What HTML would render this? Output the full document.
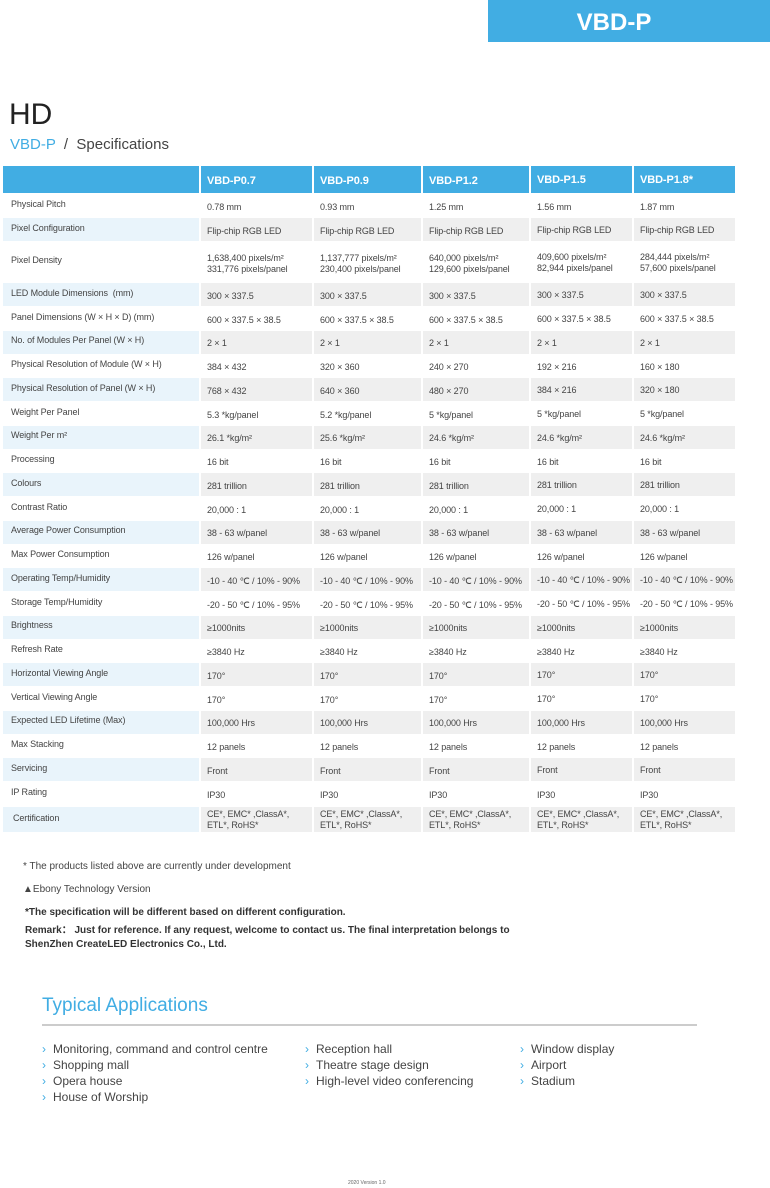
<!DOCTYPE html>
<html><head><meta charset="utf-8"><style>
*{margin:0;padding:0;box-sizing:border-box}
body{width:770px;height:1188px;background:#fff;position:relative;font-family:"Liberation Sans",sans-serif;color:#444;overflow:hidden}
.a{position:absolute;white-space:nowrap}
.row{position:absolute;left:3px;width:733px;display:flex}
.row div{height:100%;margin-right:2px;font-size:9px;color:#444;padding-left:6px;display:flex;align-items:center;line-height:11px;white-space:nowrap;letter-spacing:-0.1px}
.row div:first-child{width:196px;padding-left:8px;padding-bottom:3px}
.row div:nth-child(2){width:111px;padding-top:3px}
.row div:nth-child(3){width:107px;padding-top:3px}
.row div:nth-child(4){width:106px;padding-top:3px}
.row div:nth-child(5){width:101px;padding-top:2px}
.row div:nth-child(6){width:101px;margin-right:0;padding-top:2px}
.s div{background:#efefef}
.s div:first-child{background:#e9f4fb}
.h div{background:#41ade3;color:#fff;font-size:11px;font-weight:bold}
.h div:first-child{background:#41ade3}
.li{font-size:12px;color:#444}
.li span{color:#41ade3;margin-right:7px}
</style></head><body>
<div class="a" style="left:488px;top:0;width:282px;height:42px;background:#41ade3;color:#fff;font-size:24px;font-weight:bold;text-align:center;line-height:46px;padding-right:30px">VBD-P</div>
<div class="a" style="left:9px;top:98px;font-size:30px;color:#222">HD</div>
<div class="a" style="left:10px;top:136px;font-size:15px;color:#41ade3">VBD-P <span style="color:#444">&nbsp;/&nbsp; Specifications</span></div>

<div class="row h" style="top:166px;height:27px"><div></div><div>VBD-P0.7</div><div>VBD-P0.9</div><div>VBD-P1.2</div><div>VBD-P1.5</div><div>VBD-P1.8*</div></div>
<div class="row" style="top:194px;height:24px"><div>Physical Pitch</div><div>0.78 mm</div><div>0.93 mm</div><div>1.25 mm</div><div>1.56 mm</div><div>1.87 mm</div></div>
<div class="row s" style="top:218px;height:23px"><div>Pixel Configuration</div><div>Flip-chip RGB LED</div><div>Flip-chip RGB LED</div><div>Flip-chip RGB LED</div><div>Flip-chip RGB LED</div><div>Flip-chip RGB LED</div></div>
<div class="row" style="top:241px;height:42px"><div>Pixel Density</div><div>1,638,400 pixels/m²<br>331,776 pixels/panel</div><div>1,137,777 pixels/m²<br>230,400 pixels/panel</div><div>640,000 pixels/m²<br>129,600 pixels/panel</div><div>409,600 pixels/m²<br>82,944 pixels/panel</div><div>284,444 pixels/m²<br>57,600 pixels/panel</div></div>
<div class="row s" style="top:283px;height:23px"><div>LED Module Dimensions &nbsp;(mm)</div><div>300 × 337.5</div><div>300 × 337.5</div><div>300 × 337.5</div><div>300 × 337.5</div><div>300 × 337.5</div></div>
<div class="row" style="top:306.8px;height:23.8px"><div>Panel Dimensions (W × H × D) (mm)</div><div>600 × 337.5 × 38.5</div><div>600 × 337.5 × 38.5</div><div>600 × 337.5 × 38.5</div><div>600 × 337.5 × 38.5</div><div>600 × 337.5 × 38.5</div></div>
<div class="row s" style="top:330.5px;height:23px"><div>No. of Modules Per Panel (W × H)</div><div>2 × 1</div><div>2 × 1</div><div>2 × 1</div><div>2 × 1</div><div>2 × 1</div></div>
<div class="row" style="top:354.3px;height:23.8px"><div>Physical Resolution of Module (W × H)</div><div>384 × 432</div><div>320 × 360</div><div>240 × 270</div><div>192 × 216</div><div>160 × 180</div></div>
<div class="row s" style="top:378px;height:23px"><div>Physical Resolution of Panel (W × H)</div><div>768 × 432</div><div>640 × 360</div><div>480 × 270</div><div>384 × 216</div><div>320 × 180</div></div>
<div class="row" style="top:401.8px;height:23.8px"><div>Weight Per Panel</div><div>5.3 *kg/panel</div><div>5.2 *kg/panel</div><div>5 *kg/panel</div><div>5 *kg/panel</div><div>5 *kg/panel</div></div>
<div class="row s" style="top:425.6px;height:23px"><div>Weight Per m²</div><div>26.1 *kg/m²</div><div>25.6 *kg/m²</div><div>24.6 *kg/m²</div><div>24.6 *kg/m²</div><div>24.6 *kg/m²</div></div>
<div class="row" style="top:449.3px;height:23.8px"><div>Processing</div><div>16 bit</div><div>16 bit</div><div>16 bit</div><div>16 bit</div><div>16 bit</div></div>
<div class="row s" style="top:473.1px;height:23px"><div>Colours</div><div>281 trillion</div><div>281 trillion</div><div>281 trillion</div><div>281 trillion</div><div>281 trillion</div></div>
<div class="row" style="top:496.9px;height:23.8px"><div>Contrast Ratio</div><div>20,000 : 1</div><div>20,000 : 1</div><div>20,000 : 1</div><div>20,000 : 1</div><div>20,000 : 1</div></div>
<div class="row s" style="top:520.6px;height:23px"><div>Average Power Consumption</div><div>38 - 63 w/panel</div><div>38 - 63 w/panel</div><div>38 - 63 w/panel</div><div>38 - 63 w/panel</div><div>38 - 63 w/panel</div></div>
<div class="row" style="top:544.4px;height:23.8px"><div>Max Power Consumption</div><div>126 w/panel</div><div>126 w/panel</div><div>126 w/panel</div><div>126 w/panel</div><div>126 w/panel</div></div>
<div class="row s" style="top:568.2px;height:23px"><div>Operating Temp/Humidity</div><div>-10 - 40 ℃ / 10% - 90%</div><div>-10 - 40 ℃ / 10% - 90%</div><div>-10 - 40 ℃ / 10% - 90%</div><div>-10 - 40 ℃ / 10% - 90%</div><div>-10 - 40 ℃ / 10% - 90%</div></div>
<div class="row" style="top:591.9px;height:23.8px"><div>Storage Temp/Humidity</div><div>-20 - 50 ℃ / 10% - 95%</div><div>-20 - 50 ℃ / 10% - 95%</div><div>-20 - 50 ℃ / 10% - 95%</div><div>-20 - 50 ℃ / 10% - 95%</div><div>-20 - 50 ℃ / 10% - 95%</div></div>
<div class="row s" style="top:615.7px;height:23px"><div>Brightness</div><div>≥1000nits</div><div>≥1000nits</div><div>≥1000nits</div><div>≥1000nits</div><div>≥1000nits</div></div>
<div class="row" style="top:639.5px;height:23.8px"><div>Refresh Rate</div><div>≥3840 Hz</div><div>≥3840 Hz</div><div>≥3840 Hz</div><div>≥3840 Hz</div><div>≥3840 Hz</div></div>
<div class="row s" style="top:663.2px;height:23px"><div>Horizontal Viewing Angle</div><div>170°</div><div>170°</div><div>170°</div><div>170°</div><div>170°</div></div>
<div class="row" style="top:687px;height:23.8px"><div>Vertical Viewing Angle</div><div>170°</div><div>170°</div><div>170°</div><div>170°</div><div>170°</div></div>
<div class="row s" style="top:710.8px;height:23px"><div>Expected LED Lifetime (Max)</div><div>100,000 Hrs</div><div>100,000 Hrs</div><div>100,000 Hrs</div><div>100,000 Hrs</div><div>100,000 Hrs</div></div>
<div class="row" style="top:734.5px;height:23.8px"><div>Max Stacking</div><div>12 panels</div><div>12 panels</div><div>12 panels</div><div>12 panels</div><div>12 panels</div></div>
<div class="row s" style="top:758.3px;height:23px"><div>Servicing</div><div>Front</div><div>Front</div><div>Front</div><div>Front</div><div>Front</div></div>
<div class="row" style="top:782px;height:24px"><div>IP Rating</div><div>IP30</div><div>IP30</div><div>IP30</div><div>IP30</div><div>IP30</div></div>
<div class="row s" style="top:807px;height:25px"><div style="padding-left:10px">Certification</div><div style="padding-top:0">CE*, EMC* ,ClassA*,<br>ETL*, RoHS*</div><div style="padding-top:0">CE*, EMC* ,ClassA*,<br>ETL*, RoHS*</div><div style="padding-top:0">CE*, EMC* ,ClassA*,<br>ETL*, RoHS*</div><div style="padding-top:0">CE*, EMC* ,ClassA*,<br>ETL*, RoHS*</div><div style="padding-top:0">CE*, EMC* ,ClassA*,<br>ETL*, RoHS*</div></div>

<div class="a" style="left:23px;top:861px;font-size:10px">* The products listed above are currently under development</div>
<div class="a" style="left:23px;top:884px;font-size:10px">▲Ebony Technology Version</div>
<div class="a" style="left:25px;top:907px;font-size:10px;font-weight:bold;color:#333">*The specification will be different based on different configuration.</div>
<div class="a" style="left:25px;top:924px;font-size:10px;font-weight:bold;color:#333;line-height:14px">Remark： Just for reference. If any request, welcome to contact us. The final interpretation belongs to<br>ShenZhen CreateLED Electronics Co., Ltd.</div>

<div class="a" style="left:42px;top:995px;font-size:19px;color:#41ade3">Typical Applications</div>
<div class="a" style="left:42px;top:1024px;width:655px;height:2px;background:#ccc"></div>
<div class="a li" style="left:42px;top:1041px;line-height:16px"><span>›</span>Monitoring, command and control centre<br><span>›</span>Shopping mall<br><span>›</span>Opera house<br><span>›</span>House of Worship</div>
<div class="a li" style="left:305px;top:1041px;line-height:16px"><span>›</span>Reception hall<br><span>›</span>Theatre stage design<br><span>›</span>High-level video conferencing</div>
<div class="a li" style="left:520px;top:1041px;line-height:16px"><span>›</span>Window display<br><span>›</span>Airport<br><span>›</span>Stadium</div>
<div class="a" style="left:348px;top:1180px;font-size:5px;color:#666">2020 Version 1.0</div>
</body></html>
